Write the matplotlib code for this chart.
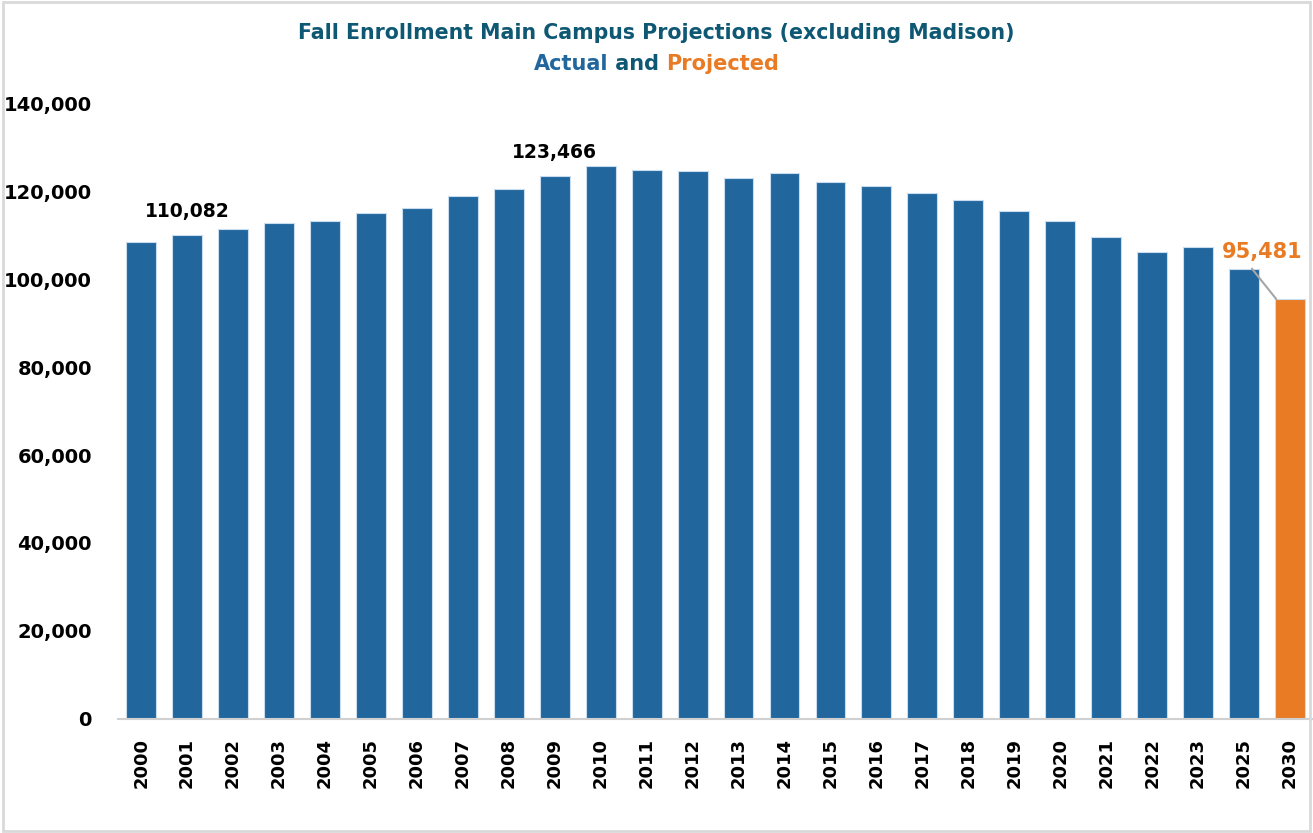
import matplotlib.pyplot as plt
from matplotlib.patches import Rectangle

years = ['2000', '2001', '2002', '2003', '2004', '2005', '2006', '2007', '2008',
         '2009', '2010', '2011', '2012', '2013', '2014', '2015', '2016', '2017',
         '2018', '2019', '2020', '2021', '2022', '2023', '2025', '2030']
enrollment = [108400, 110082, 111500, 112700, 113200, 115000, 116200, 119000,
              120400, 123466, 125700, 124800, 124500, 123100, 124100, 122200,
              121100, 119700, 117900, 115500, 113200, 109700, 106200, 107400,
              102300, 95481]
projected = [False] * 25 + [True]
labeled = ['2001', '2009']

blue = '#21679E'
orange = '#E87B24'
teal = '#0F5874'

plt.rcParams['font.family'] = ['DejaVu Sans']
fig = plt.figure(figsize=(13.13, 8.33), dpi=100)
ax = fig.add_axes([0.09, 0.137, 0.91, 0.739])

colors = [orange if p else blue for p in projected]
x = range(len(years))
ax.bar(x, enrollment, width=0.65, color=colors, edgecolor='#C9DDEE', linewidth=0.8)

ax.set_xlim(-0.5, len(years) - 0.5)
ax.set_ylim(0, 140000)
ax.set_yticks(range(0, 140001, 20000))
ax.set_yticklabels([f'{v:,}' for v in range(0, 140001, 20000)], fontsize=14, fontweight='bold')
ax.set_xticks(list(x))
ax.set_xticklabels(years, rotation=90, fontsize=13, fontweight='bold')
ax.tick_params(axis='y', length=0, pad=19)
ax.tick_params(axis='x', length=0, pad=14)
for s in ['top', 'right', 'left']:
    ax.spines[s].set_visible(False)
ax.spines['bottom'].set_color('#D0D0D0')
ax.spines['bottom'].set_linewidth(1.5)

# data labels
for i, (yr, v) in enumerate(zip(years, enrollment)):
    if yr in labeled:
        ax.annotate(f'{v:,}', (i, v), xytext=(0, 10), textcoords='offset points',
                    ha='center', va='bottom', fontsize=13.5, fontweight='bold', color='black')
last = len(years) - 1
ax.annotate(f'{enrollment[last]:,}', (last - 0.3, enrollment[last]),
            xytext=(-10, 27), textcoords='offset points',
            ha='center', va='bottom', fontsize=15, fontweight='bold', color=orange,
            arrowprops=dict(arrowstyle='-', color='#A6A6A6', lw=1.5, relpos=(0.3, 0),
                            shrinkA=4, shrinkB=0))

# title
fig.text(0.5, 0.96, 'Fall Enrollment Main Campus Projections (excluding Madison)',
         ha='center', va='center', fontsize=14.8, fontweight='bold', color=teal)
parts = [('Actual', blue), (' and ', teal), ('Projected', orange)]
fig.canvas.draw()
r = fig.canvas.get_renderer()
tmp = [fig.text(0, 0, t, fontsize=15, fontweight='bold') for t, _ in parts]
widths = [t.get_window_extent(r).width / fig.bbox.width for t in tmp]
for t in tmp:
    t.remove()
xs = 0.5 - sum(widths) / 2
for (t, c), w in zip(parts, widths):
    fig.text(xs, 0.923, t, ha='left', va='center', fontsize=15, fontweight='bold', color=c)
    xs += w

fig.patches.append(Rectangle((0.002, 0.003), 0.996, 0.994, transform=fig.transFigure,
                             fill=False, edgecolor='#D9D9D9', linewidth=2))

fig.savefig('out.png', dpi=100)
